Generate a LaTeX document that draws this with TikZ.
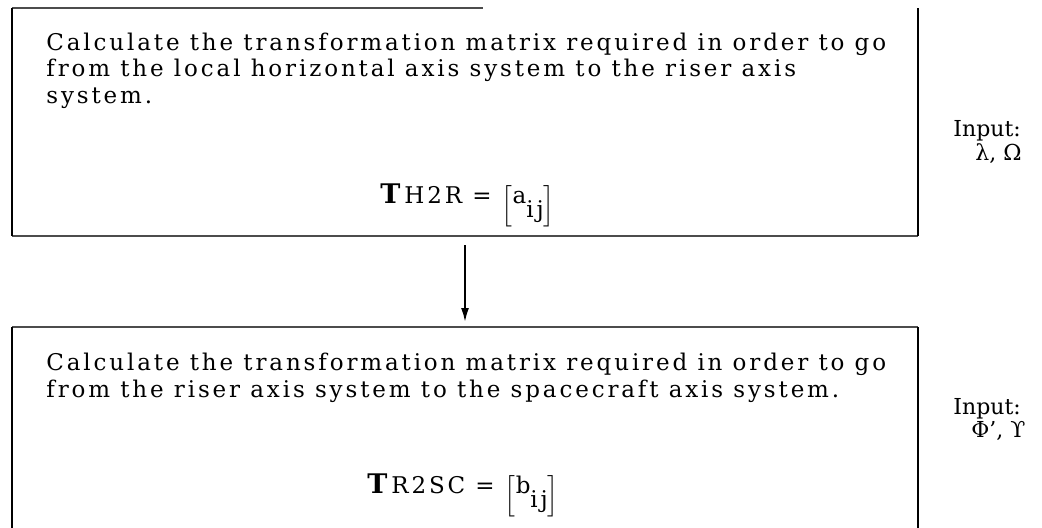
\documentclass[tikz,border=0pt]{standalone}
\usepackage{amsmath, amssymb}
\usepackage{fontspec}
\setmainfont{DejaVu Serif}
\newfontfamily\typed[LetterSpace=12.5]{DejaVu Serif}
\usetikzlibrary{calc, arrows.meta}
\newcommand{\matij}[2]{\raisebox{-4.75pt}{$\left[\rule[-7.75pt]{0pt}{20.5pt}\raisebox{4.75pt}{#1\raisebox{-7pt}{#2}}\right]$}}

\begin{document}
\begin{tikzpicture}[x=0.5pt, y=-0.5pt,
        frame/.style={inner sep=0pt, outer sep=0pt, minimum width=453pt, anchor=north west},
        rim/.style={draw=black!70, line width=0.6pt},
        side/.style={draw=black, line width=1.1pt},
        typed/.style={font=\typed\fontsize{11.5}{13.25}\selectfont, align=left, inner sep=0pt, anchor=base west},
        eqn/.style={font=\typed\fontsize{11.5}{12}\selectfont, inner sep=0pt, anchor=base west},
        given/.style={font=\fontsize{11}{8.5}\selectfont, align=left, inner sep=0pt, anchor=base west}]
            \useasboundingbox (0,0) rectangle (1042,527);
            \node[frame, minimum height=114pt] (h2r) at (12,8) {};
            \node[frame, minimum height=107pt] (r2sc) at (12,327) {};
            \draw[rim] (h2r.north west) -- ($(h2r.north west)!0.52!(h2r.north east)$);
            \draw[rim] (h2r.south west) -- (h2r.south east);
            \draw[side] (h2r.north west) -- (h2r.south west);
            \draw[side] (h2r.north east) -- (h2r.south east);
            \draw[rim] (r2sc.north west) -- (r2sc.north east);
            \draw[side] (r2sc.north west) -- (r2sc.south west);
            \draw[side] (r2sc.north east) -- (r2sc.south east);
            \draw[-{Latex[length=7pt,width=4pt]}, line width=1pt, shorten <=4.5pt, shorten >=2.5pt] (h2r.south) -- (r2sc.north);
            \node[typed] (h2rtext) at (46,103) {Calculate the transformation matrix required in order to go\\from the local horizontal axis system to the riser axis\\system.};
            \node[eqn] (h2reqn) at (380,203) {{\fontsize{13.5}{14}\selectfont\bfseries T}\,H2R = \matij{a}{ij}};
            \node[given] (h2rin) at (953,160) {Input:\\\hspace{11pt}λ, Ω};
            \node[typed] (r2sctext) at (46,397) {Calculate the transformation matrix required in order to go\\from the riser axis system to the spacecraft axis system.};
            \node[eqn] (r2sceqn) at (367,493) {{\fontsize{13.5}{14}\selectfont\bfseries T}\,R2SC = \matij{b}{ij}};
            \node[given] (r2scin) at (953,437) {Input:\\\hspace{9pt}Φ’, ϒ};
\end{tikzpicture}
\end{document}
